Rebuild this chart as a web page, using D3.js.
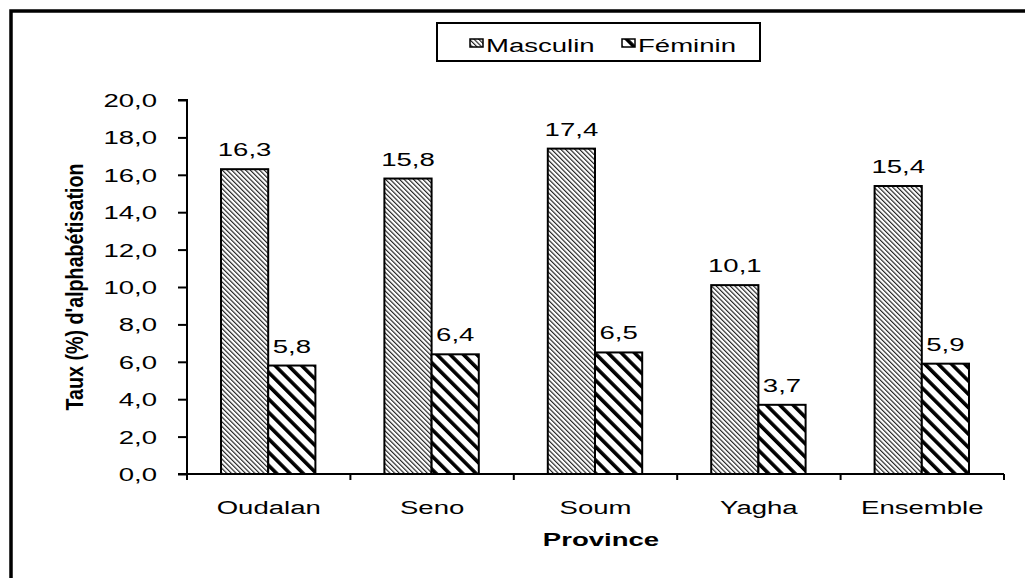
<!DOCTYPE html>
<html><head><meta charset="utf-8">
<script src="https://cdn.jsdelivr.net/npm/d3@7"></script>
<style>body{margin:0;background:#fff}svg{display:block}text{font-family:Arial,"Liberation Sans",sans-serif;fill:#000}</style>
</head><body><svg id="c" width="1025" height="578"></svg>
<script>
const categories = ["Oudalan","Seno","Soum","Yagha","Ensemble"];
const seriesNames = ["Masculin","Féminin"];
const masculin = [16.3,15.8,17.4,10.1,15.4];
const feminin = [5.8,6.4,6.5,3.7,5.9];
const yTicks = [0,2,4,6,8,10,12,14,16,18,20];

const SX = 1.45; // horizontal stretch of text in reference
const svg = d3.select("#c");
const defs = svg.append("defs");
function hatch(id, period, width, color){
  const p = defs.append("pattern").attr("id",id).attr("patternUnits","userSpaceOnUse")
    .attr("width",period).attr("height",period).attr("patternTransform","rotate(-45)");
  p.append("rect").attr("width",period).attr("height",period).attr("fill","#fff");
  p.append("rect").attr("x",0).attr("width",width).attr("height",period).attr("fill",color);
}
hatch("hm", 3.3, 1.15, "#222");
hatch("hf", 9.4, 3.6, "#000");

function stext(parent, x, y, str, opts={}){
  const t = parent.append("text")
    .attr("transform",`translate(${x},${y}) scale(${opts.sx||SX},1)`)
    .attr("font-size",opts.size||19)
    .attr("text-anchor",opts.anchor||"middle")
    .text(str);
  if(opts.bold) t.attr("font-weight","bold");
  return t;
}

// frame
svg.append("path").attr("d","M11,578 L11,11 L1025,11").attr("fill","none").attr("stroke","#000").attr("stroke-width",3.5);

const x0 = 187, x1 = 1004, yTop = 100, yBot = 474;
const x = d3.scaleBand().domain(categories).range([x0,x1]);
const y = d3.scaleLinear().domain([0,20]).range([yBot,yTop]);
const inner = d3.scaleBand().domain(seriesNames).range([34, x.bandwidth()-35]);
const fmt = v => d3.format(".1f")(v).replace(".",",");

// y axis
const ya = svg.append("g").attr("transform",`translate(${x0},0)`)
  .call(d3.axisLeft(y).tickValues(yTicks).tickSize(9).tickFormat(""));
ya.selectAll("path,line").attr("stroke","#000").attr("stroke-width",2);
ya.select(".domain").attr("d",`M-9,${yTop}H0V${yBot}`);
yTicks.forEach(v=>stext(svg, 157, y(v)+7, fmt(v), {anchor:"end"}));

// x axis
const xa = svg.append("g").attr("transform",`translate(0,${yBot})`);
xa.append("line").attr("x1",x0-9).attr("x2",x1).attr("stroke","#000").attr("stroke-width",2);
const bounds = categories.map(c=>x(c)).concat([x1]);
xa.selectAll("line.t").data(bounds).join("line").attr("class","t")
  .attr("x1",d=>d).attr("x2",d=>d).attr("y1",0).attr("y2",6).attr("stroke","#000").attr("stroke-width",2);
categories.forEach(c=>stext(svg, x(c)+x.bandwidth()/2, 514, c));

// bars
const g = svg.append("g");
categories.forEach((c,i)=>{
  [{s:"Masculin",v:masculin[i]},{s:"Féminin",v:feminin[i]}].forEach(b=>{
    const bx = x(c)+inner(b.s);
    g.append("rect").attr("x",bx).attr("y",y(b.v)).attr("width",inner.bandwidth()).attr("height",y(0)-y(b.v))
      .attr("fill",b.s==="Masculin"?"url(#hm)":"url(#hf)").attr("stroke","#000").attr("stroke-width",2);
    stext(g, bx+inner.bandwidth()/2, y(b.v)-13, fmt(b.v));
  });
});

// axis titles
svg.append("text").attr("transform","translate(83,287) rotate(-90) scale(0.82,1)").attr("text-anchor","middle")
  .attr("font-size",24).attr("font-weight","bold").text("Taux (%) d'alphabétisation");
stext(svg, 601, 546, "Province", {bold:true});

// legend
const lg = svg.append("g");
lg.append("rect").attr("x",437).attr("y",23).attr("width",323).attr("height",38).attr("fill","#fff").attr("stroke","#000").attr("stroke-width",2);
const items = [{s:"Masculin",f:"url(#hm)",x:470},{s:"Féminin",f:"url(#hf)",x:622}];
items.forEach(it=>{
  lg.append("rect").attr("x",it.x).attr("y",39).attr("width",13).attr("height",8).attr("fill",it.f).attr("stroke","#000").attr("stroke-width",1.5);
  stext(lg, it.x+16, 51.5, it.s, {anchor:"start", size:19});
});
</script></body></html>
